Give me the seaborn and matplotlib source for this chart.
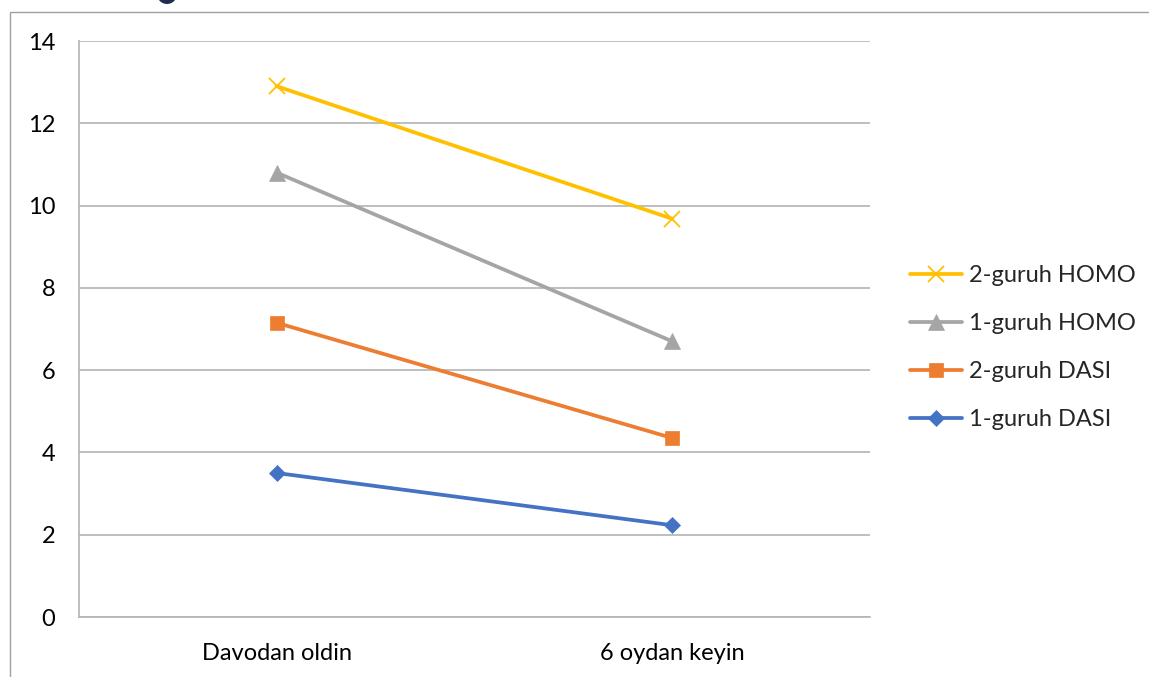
import pandas as pd
import matplotlib.pyplot as plt
import seaborn as sns
from matplotlib.patches import Rectangle, Ellipse

# Data
categories = ['Davodan oldin', '6 oydan keyin']
series_names = ['1-guruh DASI', '2-guruh DASI', '1-guruh HOMO', '2-guruh HOMO']
dasi_1 = [3.5, 2.23]
dasi_2 = [7.15, 4.35]
homo_1 = [10.8, 6.7]
homo_2 = [12.9, 9.68]
y_ticks = [0, 2, 4, 6, 8, 10, 12, 14]

values = [dasi_1, dasi_2, homo_1, homo_2]
colors = ['#4472C4', '#ED7D31', '#A5A5A5', '#FFC000']
markers = ['D', 's', '^', 'x']
msizes = [8.5, 10, 11, 11]

rows = []
for name, vals in zip(series_names, values):
    for i, v in enumerate(vals):
        rows.append({'series': name, 'pos': i, 'value': v})
df = pd.DataFrame(rows)

sns.set_style('white')
plt.rcParams['font.family'] = ['Lato', 'DejaVu Sans']

fig = plt.figure(figsize=(11.49, 6.77), dpi=100)
ax = fig.add_axes([79 / 1149, 60 / 677, 791 / 1149, 576 / 677])

grid_c = '#B4B4B4'
for name, c, m, ms in zip(series_names, colors, markers, msizes):
    sub = df[df['series'] == name]
    sns.lineplot(data=sub, x='pos', y='value', ax=ax, color=c, linewidth=2.7,
                 marker=m, markersize=ms, markeredgecolor=c,
                 markeredgewidth=1.3 if m == 'x' else 0.5, label=name)

ax.set_xlim(-0.5, 1.5)
ax.set_ylim(0, 14)
ax.set_yticks(y_ticks)
ax.set_yticklabels([str(t) for t in y_ticks])
ax.set_xticks([-0.5, 0.5, 1.5])
ax.set_xticklabels([])
ax.set_xticks([0, 1], minor=True)
ax.set_xticklabels(categories, minor=True)
ax.set_xlabel('')
ax.set_ylabel('')

ax.yaxis.grid(True, color=grid_c, linewidth=1.2)
ax.set_axisbelow(True)
for side in ['top', 'right']:
    ax.spines[side].set_visible(False)
for side in ['left', 'bottom']:
    ax.spines[side].set_color(grid_c)
    ax.spines[side].set_linewidth(1.2)

ax.tick_params(axis='y', which='major', length=7, width=1.2, color=grid_c,
               labelsize=17, pad=10, labelcolor='black')
ax.tick_params(axis='x', which='major', length=7, width=1.2, color=grid_c,
               direction='out')
ax.tick_params(axis='x', which='minor', length=0, labelsize=17, pad=19,
               labelcolor='black')

handles, labels = ax.get_legend_handles_labels()
ax.legend(handles[::-1], labels[::-1], loc='center left',
          bbox_to_anchor=(910 / 1149, 1 - 347.5 / 677), bbox_transform=fig.transFigure,
          frameon=False, fontsize=17, handlelength=2.2, handletextpad=0.3,
          labelspacing=1.15, borderpad=0, borderaxespad=0)

# outer chart border and partial badge at top
fig.patches.append(Rectangle((10 / 1149, -0.1), 1.2, 1.1 - 12 / 677, transform=fig.transFigure,
                             fill=False, edgecolor='#A0A0A0', linewidth=1.0))
fig.patches.append(Ellipse((167 / 1149, 1 + 6 / 677), 20 / 1149, 20 / 677,
                           transform=fig.transFigure, facecolor='#1F2D4E', edgecolor='none'))

fig.savefig('out.png', dpi=100)
